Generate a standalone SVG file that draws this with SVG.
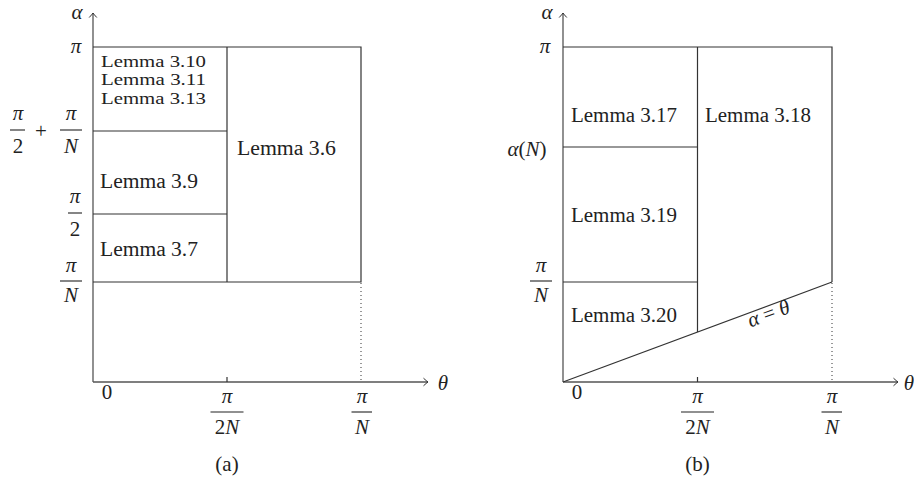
<svg xmlns="http://www.w3.org/2000/svg" width="914" height="482" viewBox="0 0 914 482">
<style>
.ln{stroke:#333;stroke-width:1.2;fill:none}
.ax{stroke:#555;stroke-width:1.3;fill:none}
.dot{stroke:#333;stroke-width:1;stroke-dasharray:1 3;fill:none}
.bar{stroke:#222;stroke-width:1.1}
text{font-family:'Liberation Serif','DejaVu Serif',serif;fill:#222}
.t{font-size:20px}
.s{font-size:16.5px}
.m{font-size:21px;font-style:italic}
.r{font-size:21px}
</style>
<defs>
<marker id="arr" viewBox="-6 -5 8 10" markerWidth="8" markerHeight="10" refX="0" refY="0" orient="auto" markerUnits="userSpaceOnUse">
<path d="M-4.5,-3.8 Q-1.5,-1 0,0 Q-1.5,1 -4.5,3.8" stroke="#333" stroke-width="1" fill="none"/>
</marker>
</defs>

<g id="panel-a">
<g id="a-connectors">
<path class="ax" d="M93,382 H428" marker-end="url(#arr)"/>
<path class="ax" d="M93,382 V13" marker-end="url(#arr)"/>
<path class="ln" d="M93,47 H361 V282 H93"/>
<path class="ln" d="M227,47 V282"/>
<path class="ln" d="M93,131 H227 M93,214 H227"/>
<path class="dot" d="M361,283 V381"/>
<path class="ln" d="M227,377 V382"/>
</g>
<g id="a-lemma-3-10">
<text class="s" x="101" y="66.5" textLength="105" lengthAdjust="spacingAndGlyphs">Lemma 3.10</text>
<text class="s" x="101" y="85" textLength="105" lengthAdjust="spacingAndGlyphs">Lemma 3.11</text>
<text class="s" x="101" y="103.5" textLength="105" lengthAdjust="spacingAndGlyphs">Lemma 3.13</text>
</g>
<g id="a-lemma-3-9"><text class="t" x="100" y="188" textLength="98" lengthAdjust="spacingAndGlyphs">Lemma 3.9</text></g>
<g id="a-lemma-3-7"><text class="t" x="100" y="256" textLength="98" lengthAdjust="spacingAndGlyphs">Lemma 3.7</text></g>
<g id="a-lemma-3-6"><text class="t" x="237" y="155" textLength="99" lengthAdjust="spacingAndGlyphs">Lemma 3.6</text></g>
<g id="a-axis-labels">
<text class="m" x="77" y="19" text-anchor="middle">α</text>
<text class="m" x="76" y="53" text-anchor="middle">π</text>
<text class="m" x="18" y="120" text-anchor="middle">π</text>
<line class="bar" x1="10" y1="130" x2="25" y2="130"/>
<text class="r" x="18" y="153" text-anchor="middle">2</text>
<text class="r" x="41" y="138" text-anchor="middle" font-size="24">+</text>
<text class="m" x="71" y="120" text-anchor="middle">π</text>
<line class="bar" x1="60" y1="130" x2="82" y2="130"/>
<text class="m" x="71" y="153" text-anchor="middle">N</text>
<text class="m" x="75" y="203" text-anchor="middle">π</text>
<line class="bar" x1="68" y1="213" x2="82" y2="213"/>
<text class="r" x="75" y="236" text-anchor="middle">2</text>
<text class="m" x="71" y="272" text-anchor="middle">π</text>
<line class="bar" x1="60" y1="281" x2="82" y2="281"/>
<text class="m" x="71" y="302" text-anchor="middle">N</text>
<text class="r" x="107" y="399" text-anchor="middle">0</text>
<text class="m" x="227" y="403" text-anchor="middle">π</text>
<line class="bar" x1="210.5" y1="412" x2="243.5" y2="412"/>
<text class="r" x="227" y="434" text-anchor="middle">2<tspan font-style="italic">N</tspan></text>
<text class="m" x="362" y="403" text-anchor="middle">π</text>
<line class="bar" x1="351.5" y1="412" x2="372" y2="412"/>
<text class="m" x="362" y="434" text-anchor="middle">N</text>
<text class="m" x="443" y="390" text-anchor="middle">θ</text>
<text class="r" x="227" y="471" text-anchor="middle">(a)</text>
</g>
</g>

<g id="panel-b">
<g id="b-connectors">
<path class="ax" d="M563,382 H898" marker-end="url(#arr)"/>
<path class="ax" d="M563,382 V13" marker-end="url(#arr)"/>
<path class="ln" d="M563,47 H832 V282"/>
<path class="ln" d="M697.5,47 V332"/>
<path class="ln" d="M563,147 H697.5 M563,282 H697.5"/>
<path class="ln" d="M563,382 L832,282"/>
<path class="dot" d="M832,283 V381"/>
<path class="ln" d="M697.5,377 V382"/>
</g>
<g id="b-lemma-3-17"><text class="t" x="571" y="122" textLength="106" lengthAdjust="spacingAndGlyphs">Lemma 3.17</text></g>
<g id="b-lemma-3-18"><text class="t" x="705" y="122" textLength="106" lengthAdjust="spacingAndGlyphs">Lemma 3.18</text></g>
<g id="b-lemma-3-19"><text class="t" x="571" y="222" textLength="106" lengthAdjust="spacingAndGlyphs">Lemma 3.19</text></g>
<g id="b-lemma-3-20"><text class="t" x="571" y="322" textLength="106" lengthAdjust="spacingAndGlyphs">Lemma 3.20</text></g>
<g id="b-alpha-theta">
<text class="m" x="0" y="0" text-anchor="middle" transform="translate(771,320) rotate(-20.4)">α <tspan font-style="normal">=</tspan> θ</text>
</g>
<g id="b-axis-labels">
<text class="m" x="547" y="19" text-anchor="middle">α</text>
<text class="m" x="545" y="53" text-anchor="middle">π</text>
<text class="m" x="527" y="156" text-anchor="middle">α<tspan font-style="normal">(</tspan>N<tspan font-style="normal">)</tspan></text>
<text class="m" x="541" y="272" text-anchor="middle">π</text>
<line class="bar" x1="530" y1="281" x2="552" y2="281"/>
<text class="m" x="541" y="302" text-anchor="middle">N</text>
<text class="r" x="577" y="399" text-anchor="middle">0</text>
<text class="m" x="697.5" y="403" text-anchor="middle">π</text>
<line class="bar" x1="681" y1="412" x2="714" y2="412"/>
<text class="r" x="697.5" y="434" text-anchor="middle">2<tspan font-style="italic">N</tspan></text>
<text class="m" x="832" y="403" text-anchor="middle">π</text>
<line class="bar" x1="821.5" y1="412" x2="842" y2="412"/>
<text class="m" x="832" y="434" text-anchor="middle">N</text>
<text class="m" x="909" y="390" text-anchor="middle">θ</text>
<text class="r" x="697.5" y="471" text-anchor="middle">(b)</text>
</g>
</g>
</svg>
